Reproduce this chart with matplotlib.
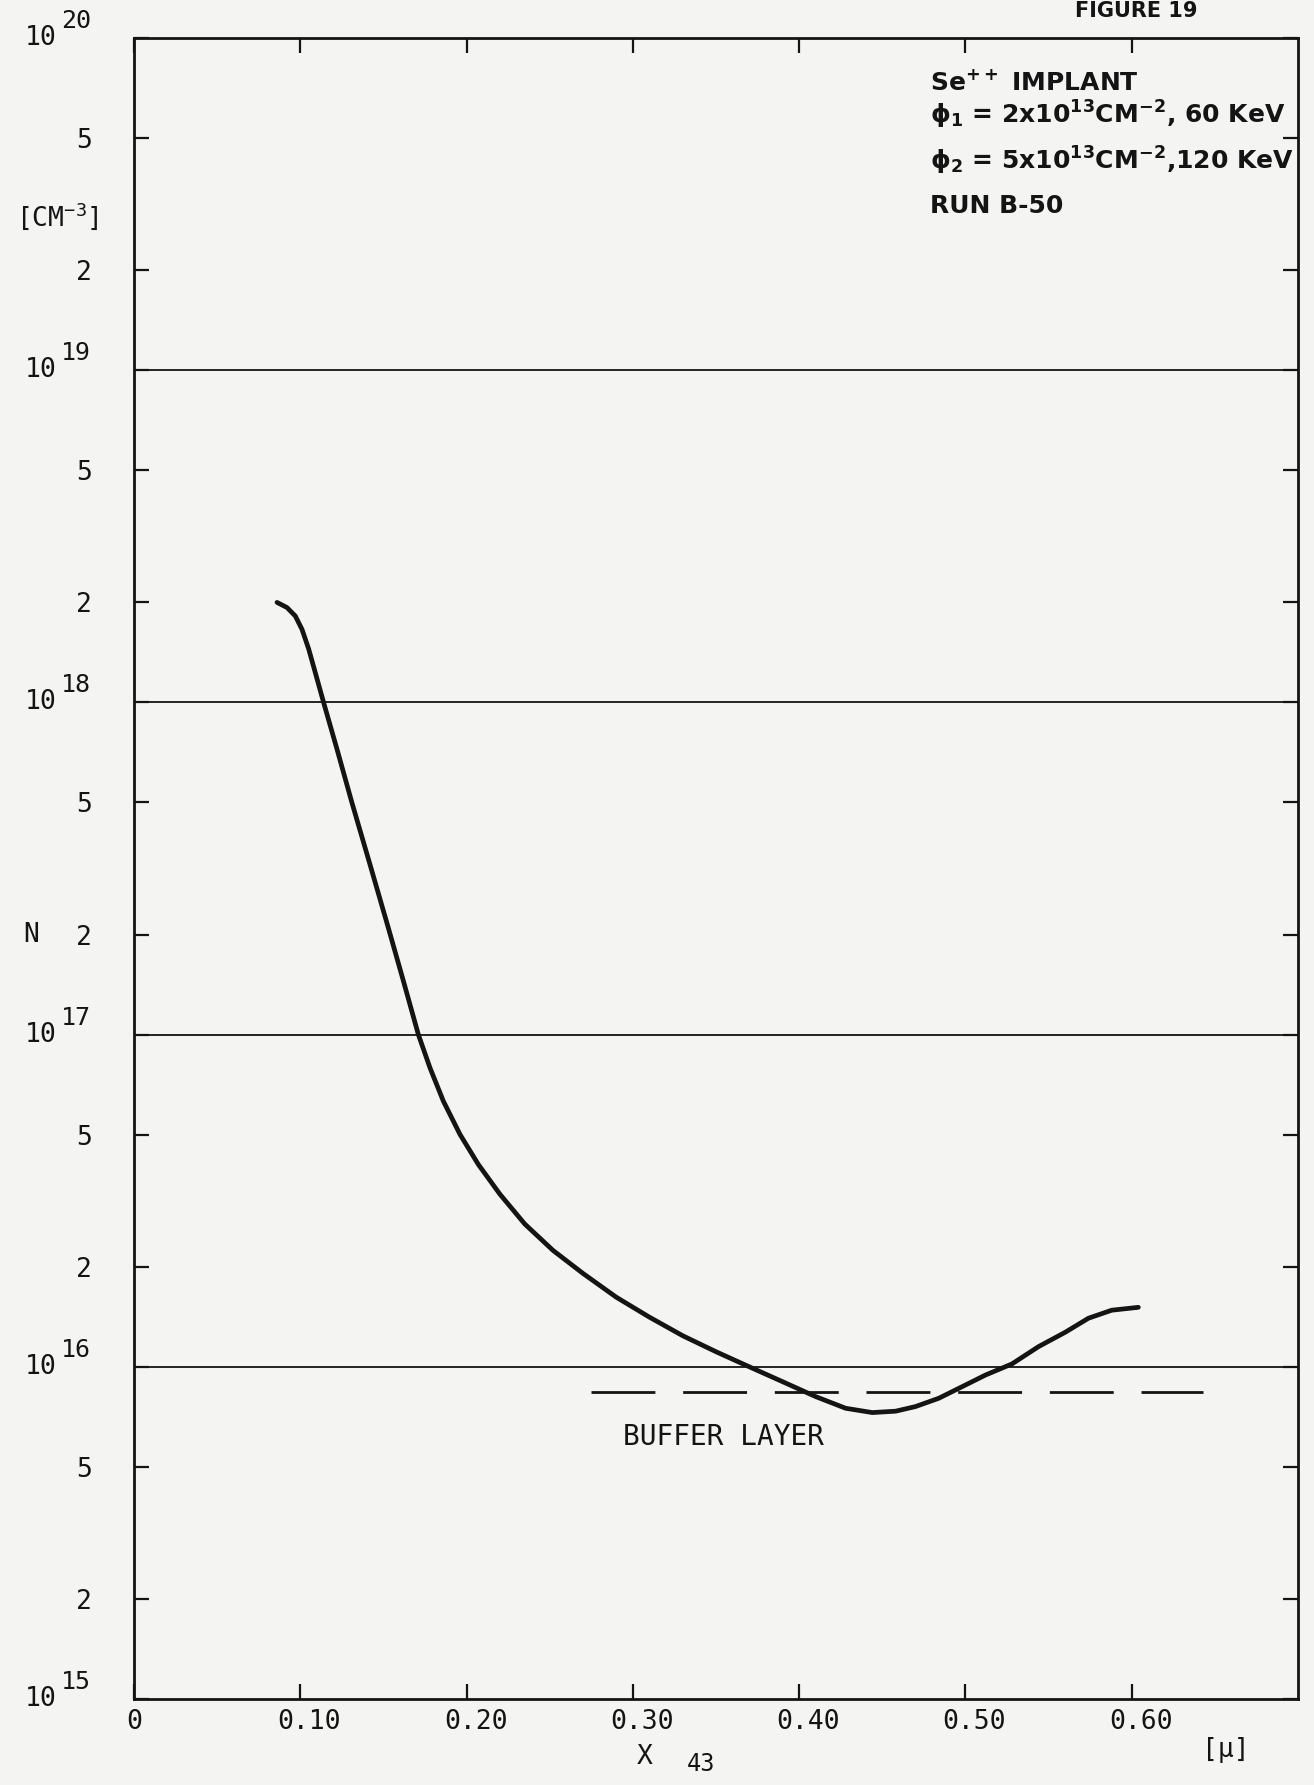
"""Se++ implant carrier profile, run B-50."""

import matplotlib as mpl
import numpy as np
from matplotlib import pyplot as plt
from matplotlib import transforms

mpl.use("Agg")

plt.rcParams["font.family"] = ["DejaVu Sans Mono", "DejaVu Sans"]
plt.rcParams["mathtext.fontset"] = "custom"
plt.rcParams["mathtext.rm"] = "DejaVu Sans Mono"
plt.rcParams["mathtext.it"] = "DejaVu Sans:bold"
plt.rcParams["mathtext.bf"] = "DejaVu Sans:bold"

PAPER = "#f4f4f2"
INK = "#141414"

# depth [micron] and carrier concentration N [cm^-3]
depth = [0.086, 0.092, 0.097, 0.101, 0.105, 0.109, 0.114, 0.122, 0.131,
         0.142, 0.153, 0.162, 0.171, 0.178, 0.186, 0.196, 0.207, 0.220,
         0.235, 0.252, 0.270, 0.290, 0.310, 0.330, 0.350, 0.370, 0.390,
         0.410, 0.428, 0.444, 0.458, 0.470, 0.484, 0.498, 0.512, 0.528,
         0.544, 0.560, 0.574, 0.588, 0.604]
conc = [2.00e18, 1.93e18, 1.82e18, 1.66e18, 1.45e18, 1.23e18, 1.00e18,
        7.25e17, 5.00e17, 3.24e17, 2.09e17, 1.45e17, 1.00e17, 7.94e16,
        6.31e16, 5.01e16, 4.07e16, 3.31e16, 2.69e16, 2.24e16, 1.91e16,
        1.62e16, 1.41e16, 1.24e16, 1.11e16, 1.00e16, 9.02e15, 8.13e15,
        7.50e15, 7.28e15, 7.35e15, 7.59e15, 8.04e15, 8.71e15, 9.44e15,
        1.02e16, 1.15e16, 1.27e16, 1.40e16, 1.48e16, 1.51e16]

# buffer layer level
buffer_x = [0.275, 0.643]
buffer_n = [8.4e15, 8.4e15]

x_ticks = [0.0, 0.1, 0.2, 0.3, 0.4, 0.5, 0.6]
x_labels = ["0", "0.10", "0.20", "0.30", "0.40", "0.50", "0.60"]
decades = [1e15, 1e16, 1e17, 1e18, 1e19, 1e20]
grid_levels = [1e16, 1e17, 1e18, 1e19]

fig = plt.figure(figsize=(13.14, 17.85), dpi=100, facecolor=PAPER)
ax = fig.add_axes([0.1020, 0.0482, 0.8858, 0.9305], facecolor=PAPER)
ax.set_yscale("log")
ax.set_xlim(0.0, 0.70)
ax.set_ylim(1e15, 1e20)

for level in grid_levels:
    ax.axhline(level, color=INK, linewidth=1.3, zorder=1)

ax.plot(depth, conc, color=INK, linewidth=3.4, solid_capstyle="round",
        solid_joinstyle="round", zorder=3)
ax.plot(buffer_x, buffer_n, color=INK, linewidth=2.0, dashes=(23, 10),
        zorder=2)

# y ticks: 2 and 5 get tick labels, decades are written out below
y_ticks = []
y_labels = []
for dec in decades:
    y_ticks.append(dec)
    y_labels.append("")
    if dec < 1e20:
        y_ticks += [2 * dec, 5 * dec]
        y_labels += ["2", "5"]
ax.set_yticks(y_ticks, y_labels)
ax.yaxis.set_minor_locator(mpl.ticker.NullLocator())
ax.set_xticks(x_ticks, x_labels)

ax.tick_params(axis="both", which="major", direction="in", length=11,
               width=1.6, colors=INK, labelsize=19, top=True, right=True)
ax.tick_params(axis="y", pad=30)
ax.tick_params(axis="x", pad=7)
for spine in ax.spines.values():
    spine.set_linewidth(2.0)
    spine.set_color(INK)

# typed labels sit a little right of their ticks
nudge = transforms.ScaledTranslation(9 / 100, 0, fig.dpi_scale_trans)
for label in ax.get_xticklabels()[1:]:
    label.set_transform(label.get_transform() + nudge)

left_trans = transforms.blended_transform_factory(ax.transAxes, ax.transData)
bottom_trans = transforms.blended_transform_factory(ax.transData, ax.transAxes)
raised = transforms.offset_copy(left_trans, fig=fig, y=17, units="dots")

for dec in decades:
    exp = int(round(np.log10(dec)))
    ax.text(-0.0665, dec, "10", transform=left_trans, fontsize=19,
            ha="right", va="center", color=INK)
    ax.text(-0.0625, dec, str(exp), transform=raised, fontsize=18,
            ha="left", va="center", color=INK)

ax.text(-0.088, 2e17, "N", transform=left_trans, fontsize=19,
        ha="center", va="center", color=INK)
ax.text(-0.066, 2.9e19, r"[CM$^{-3}$]", transform=left_trans, fontsize=19,
        ha="center", va="center", color=INK)

ax.text(0.307, -0.035, "X", transform=bottom_trans, fontsize=19,
        ha="center", va="center", color=INK)
ax.text(0.341, -0.039, "43", transform=bottom_trans, fontsize=17,
        ha="center", va="center", color=INK)
ax.text(0.6565, -0.031, "[μ]", transform=bottom_trans, fontsize=19,
        ha="center", va="center", color=INK)

ax.text(0.294, 6.15e15, "BUFFER LAYER", fontsize=20, ha="left",
        va="center", color=INK)

# implant conditions
notes = [
    (0.9735, r"Se$^{\mathbf{++}}$ IMPLANT"),
    (0.9536, r"$\mathbf{\phi_1}$ = 2x10$^{\mathbf{13}}$CM$^{\mathbf{-2}}$, 60 KeV"),
    (0.9260, r"$\mathbf{\phi_2}$ = 5x10$^{\mathbf{13}}$CM$^{\mathbf{-2}}$,120 KeV"),
    (0.8990, "RUN B-50"),
]
for y_pos, line in notes:
    ax.text(0.479, y_pos, line, transform=bottom_trans, fontsize=18,
            fontweight="bold", family="DejaVu Sans", ha="left",
            va="center", color=INK, clip_on=False)

fig.text(0.865, 0.9995, "FIGURE 19", fontsize=15, fontweight="bold",
         family="DejaVu Sans", ha="center", va="top", color=INK)

fig.savefig("out.png", dpi=100, facecolor=PAPER)
plt.close(fig)
